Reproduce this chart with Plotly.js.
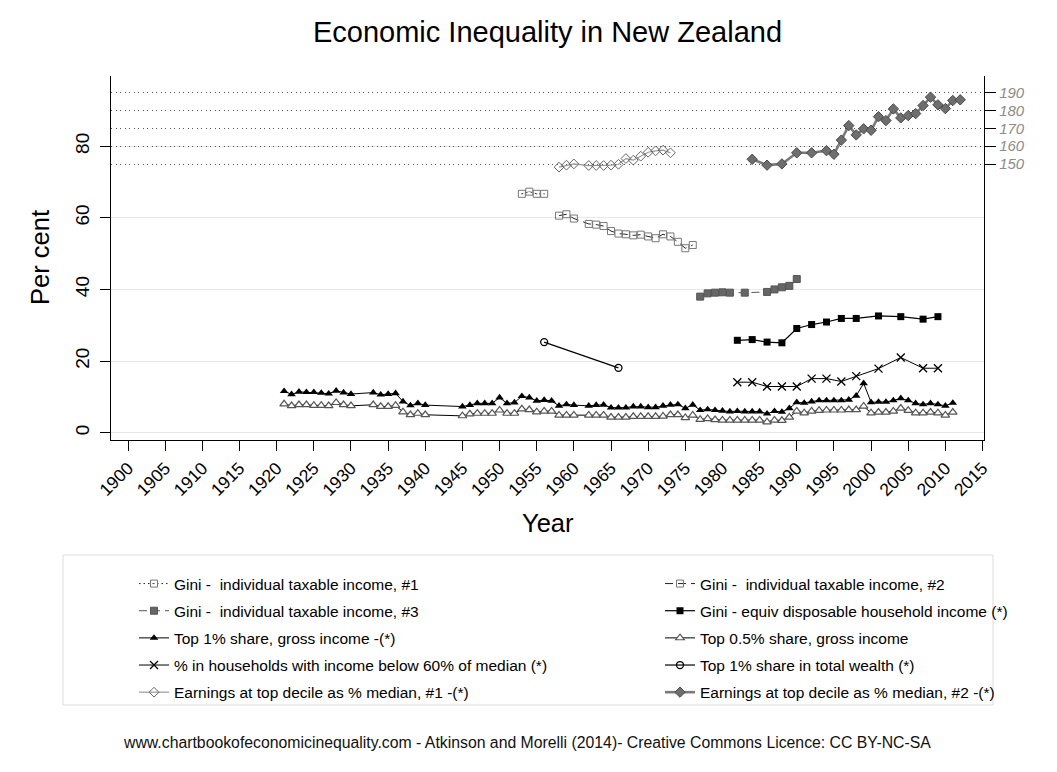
<!DOCTYPE html>
<html>
<head>
<meta charset="utf-8">
<script src="https://cdn.plot.ly/plotly-3.0.1.min.js"></script>
<style>html,body{margin:0;padding:0;background:#fff;}#chart{width:1057px;height:772px;}</style>
</head>
<body>
<div id="chart"></div>
<script>
// ---- Data ----
const giniTax1Years = [1953, 1954, 1955, 1956];
const giniTax1 = [66.7, 67.3, 66.7, 66.7];

const giniTax2Years = [1958, 1959, 1960, 1962, 1963, 1964, 1965, 1966, 1967, 1968, 1969, 1970, 1971, 1972, 1973, 1974, 1975, 1976];
const giniTax2 = [60.6, 61.0, 59.8, 58.3, 58.1, 57.7, 56.3, 55.6, 55.4, 55.1, 55.3, 54.8, 54.3, 55.4, 54.8, 53.3, 51.5, 52.4];

const giniTax3Years = [1977, 1978, 1979, 1980, 1981, 1983, 1986, 1987, 1988, 1989, 1990];
const giniTax3 = [38.0, 38.9, 39.1, 39.2, 39.1, 39.1, 39.3, 40.0, 40.6, 41.0, 42.9];

const hhYears = [1982, 1984, 1986, 1988, 1990, 1992, 1994, 1996, 1998, 2001, 2004, 2007, 2009];
const giniEquiv = [25.8, 26.0, 25.3, 25.1, 29.1, 30.2, 30.9, 31.9, 31.9, 32.6, 32.4, 31.7, 32.4];
const below60 = [14.1, 14.1, 12.9, 12.9, 12.9, 15.1, 15.1, 14.3, 15.8, 17.9, 21.0, 18.0, 18.0];

const topYears = [1921, 1922, 1923, 1924, 1925, 1926, 1927, 1928, 1929, 1930,
  1933, 1934, 1935, 1936, 1937, 1938, 1939, 1940,
  1945, 1946, 1947, 1948, 1949, 1950, 1951, 1952, 1953, 1954, 1955, 1956, 1957, 1958, 1959, 1960,
  1962, 1963, 1964, 1965, 1966, 1967, 1968, 1969, 1970, 1971, 1972, 1973, 1974, 1975, 1976, 1977, 1978, 1979, 1980,
  1981, 1982, 1983, 1984, 1985, 1986, 1987, 1988, 1989, 1990, 1991, 1992, 1993, 1994, 1995, 1996, 1997, 1998, 1999, 2000,
  2001, 2002, 2003, 2004, 2005, 2006, 2007, 2008, 2009, 2010, 2011];
const top1Share = [11.6, 10.7, 11.4, 11.3, 11.3, 11.1, 10.9, 11.7, 11.2, 10.8,
  11.2, 10.6, 10.8, 11.0, 8.7, 7.6, 8.2, 7.7,
  7.3, 7.7, 8.2, 8.2, 8.2, 9.8, 8.2, 8.4, 10.2, 9.8, 8.9, 9.1, 8.9, 7.5, 7.9, 7.7,
  7.5, 7.7, 7.8, 7.0, 7.0, 7.0, 7.3, 7.3, 7.1, 7.1, 7.5, 7.8, 7.9, 6.8, 7.8, 6.3, 6.5, 6.3, 6.1,
  5.9, 6.0, 5.9, 5.9, 5.9, 5.3, 6.0, 5.8, 6.8, 8.5, 8.3, 8.7, 9.0, 9.0, 9.0, 9.0, 9.2, 10.3, 13.8, 8.5,
  8.6, 8.6, 9.0, 9.6, 9.0, 8.2, 7.9, 8.2, 7.9, 7.5, 8.3];
const top05Share = [8.0, 7.5, 7.8, 7.8, 7.6, 7.6, 7.5, 8.4, 7.8, 7.5,
  7.8, 7.3, 7.3, 7.6, 5.8, 5.0, 5.4, 5.0,
  4.7, 5.2, 5.4, 5.4, 5.4, 6.3, 5.4, 5.4, 6.6, 6.4, 5.8, 6.0, 6.0, 4.9, 4.9, 4.9,
  4.9, 4.9, 4.9, 4.3, 4.3, 4.3, 4.5, 4.5, 4.5, 4.5, 4.6, 5.0, 5.0, 4.2, 4.9, 3.7, 3.9, 3.6, 3.5,
  3.5, 3.5, 3.5, 3.5, 3.5, 3.0, 3.5, 3.4, 4.3, 6.0, 5.5, 6.0, 6.2, 6.3, 6.3, 6.3, 6.4, 6.4, 7.4, 5.5,
  5.7, 5.7, 6.0, 6.8, 6.2, 5.5, 5.5, 5.7, 5.5, 4.9, 5.7];

const wealthYears = [1956, 1966];
const wealthTop1 = [25.3, 18.1];

const earn1Years = [1958, 1959, 1960, 1962, 1963, 1964, 1965, 1966, 1967, 1968, 1969, 1970, 1971, 1972, 1973];
const earnings1 = [148.3, 149.4, 150.1, 149.2, 149.2, 149.2, 149.4, 149.9, 153.1, 152.2, 154.4, 156.6, 157.4, 157.8, 156.3];

const earn2Years = [1984, 1986, 1988, 1990, 1992, 1994, 1995, 1996, 1997, 1998, 1999, 2000, 2001, 2002, 2003, 2004, 2005, 2006, 2007, 2008, 2009, 2010, 2011, 2012];
const earnings2 = [152.7, 149.4, 150.1, 156.3, 156.3, 157.5, 155.5, 163.4, 171.5, 166.3, 169.7, 168.9, 176.5, 174.3, 180.8, 175.8, 177.1, 178.2, 182.7, 187.4, 183.1, 181.0, 185.5, 185.9];

const xTicks = [1900, 1905, 1910, 1915, 1920, 1925, 1930, 1935, 1940, 1945, 1950, 1955, 1960, 1965, 1970, 1975, 1980, 1985, 1990, 1995, 2000, 2005, 2010, 2015];
const yTicks = [0, 20, 40, 60, 80];
const y2Ticks = [150, 160, 170, 180, 190];

const names = {
  g1: 'Gini - \u00a0individual taxable income, #1',
  g2: 'Gini - \u00a0individual taxable income, #2',
  g3: 'Gini - \u00a0individual taxable income, #3',
  ge: 'Gini - equiv disposable household income (*)',
  t1: 'Top 1% share, gross income -(*)',
  t05: 'Top 0.5% share, gross income',
  hh: '% in households with income below 60% of median (*)',
  w: 'Top 1% share in total wealth (*)',
  e1: 'Earnings at top decile as % median, #1 -(*)',
  e2: 'Earnings at top decile as % median, #2 -(*)'
};

// ---- Chart ----
const FONT = '"Liberation Sans", Arial, Helvetica, sans-serif';
const yMin = -2.04, yMax = 99.6;

const traces = [
  {x: giniTax1Years, y: giniTax1, name: names.g1, legend: 'legend', legendgroup: 'a1',
   mode: 'lines+markers', line: {color: '#222', width: 1, dash: '1.5px,3px'},
   marker: {symbol: 'square-open-dot', size: 7, color: '#777', line: {width: 1}}},
  {x: giniTax2Years, y: giniTax2, name: names.g2, legend: 'legend2', legendgroup: 'b1',
   mode: 'lines+markers', line: {color: '#222', width: 1, dash: '8px,5px'},
   marker: {symbol: 'square-open', size: 7, color: '#777', line: {width: 1}}},
  {x: giniTax3Years, y: giniTax3, name: names.g3, legend: 'legend', legendgroup: 'a2',
   mode: 'lines+markers', line: {color: '#555', width: 1, dash: '8px,5px'},
   marker: {symbol: 'square', size: 7, color: '#666', line: {color: '#555', width: 1}}},
  {x: hhYears, y: giniEquiv, name: names.ge, legend: 'legend2', legendgroup: 'b2',
   mode: 'lines+markers', line: {color: '#000', width: 1.2},
   marker: {symbol: 'square', size: 7, color: '#000'}},
  {x: topYears, y: top05Share, name: names.t05, legend: 'legend2', legendgroup: 'b3',
   mode: 'lines+markers', line: {color: '#000', width: 1},
   marker: {symbol: 'triangle-up', size: 7.5, color: '#fff', line: {color: '#555', width: 1.2}}},
  {x: topYears, y: top1Share, name: names.t1, legend: 'legend', legendgroup: 'a3',
   mode: 'lines+markers', line: {color: '#000', width: 1},
   marker: {symbol: 'triangle-up', size: 7.5, color: '#000'}},
  {x: hhYears, y: below60, name: names.hh, legend: 'legend', legendgroup: 'a4',
   mode: 'lines+markers', line: {color: '#000', width: 1},
   marker: {symbol: 'x-thin-open', size: 8, color: '#000', line: {color: '#000', width: 1.3}}},
  {x: wealthYears, y: wealthTop1, name: names.w, legend: 'legend2', legendgroup: 'b4',
   mode: 'lines+markers', line: {color: '#000', width: 1.2},
   marker: {symbol: 'circle-open', size: 7, color: '#000', line: {width: 1.3}}},
  {x: earn1Years, y: earnings1, name: names.e1, legend: 'legend', legendgroup: 'a5', yaxis: 'y2',
   mode: 'lines+markers', line: {color: '#999', width: 1.2},
   marker: {symbol: 'diamond-open', size: 7.5, color: '#666', line: {width: 1}}},
  {x: earn2Years, y: earnings2, name: names.e2, legend: 'legend2', legendgroup: 'b5', yaxis: 'y2',
   mode: 'lines+markers', line: {color: '#7a7a7a', width: 2.6},
   marker: {symbol: 'diamond', size: 8, color: '#6e6e6e', line: {color: '#4a4a4a', width: 1}}}
];

const legendCommon = {
  orientation: 'v', bgcolor: 'rgba(0,0,0,0)', borderwidth: 0,
  font: {family: FONT, size: 15.5, color: '#000'}, tracegroupgap: 4,
  xanchor: 'left', yanchor: 'top', traceorder: 'grouped', itemsizing: 'trace'
};

const layout = {
  width: 1057, height: 772,
  paper_bgcolor: '#fff', plot_bgcolor: '#fff',
  font: {family: FONT, color: '#000'},
  margin: {l: 111, r: 73, t: 76, b: 332, autoexpand: false},
  title: {text: 'Economic Inequality in New Zealand', font: {family: FONT, size: 29, color: '#000'},
          x: 0.5, xref: 'paper', y: 1 - 32 / 772, yref: 'container', yanchor: 'middle'},
  xaxis: {range: [1897.7, 2015.2], tickvals: xTicks, ticktext: xTicks.map(String), tickangle: -45,
          ticks: 'outside', ticklen: 10, tickcolor: '#000', tickwidth: 1,
          showline: true, linecolor: '#000', linewidth: 1.3, showgrid: false, zeroline: false,
          tickfont: {family: FONT, size: 17.5, color: '#000'}},
  yaxis: {range: [yMin, yMax], tickvals: yTicks, ticktext: yTicks.map(String), tickangle: -90,
          ticks: 'outside', ticklen: 10, tickcolor: '#000', tickwidth: 1, ticklabelstandoff: 3,
          showline: true, linecolor: '#000', linewidth: 1.3,
          showgrid: true, gridcolor: '#e8e8e8', gridwidth: 1, zeroline: false,
          tickfont: {family: FONT, size: 19, color: '#000'}},
  yaxis2: {overlaying: 'y', side: 'right', range: [2 * yMin, 2 * yMax], tickvals: y2Ticks, ticktext: y2Ticks.map(String),
           ticks: 'outside', ticklen: 11, tickcolor: '#000', tickwidth: 1,
           showline: true, linecolor: '#000', linewidth: 1.3,
           showgrid: true, gridcolor: '#555', gridwidth: 1.2, griddash: '1px,3.5px', zeroline: false,
           tickfont: {family: FONT, size: 15, color: '#8c8c8c', style: 'italic'}},
  legend: Object.assign({}, legendCommon, {x: (134 - 111) / 873, y: (440 - 567) / 364}),
  legend2: Object.assign({}, legendCommon, {x: (660 - 111) / 873, y: (440 - 567) / 364}),
  shapes: [
    {type: 'rect', xref: 'paper', yref: 'paper', x0: (63 - 111) / 873, x1: (993 - 111) / 873,
     y0: (440 - 705) / 364, y1: (440 - 555) / 364, line: {color: '#dcdcdc', width: 1}, fillcolor: 'rgba(0,0,0,0)', layer: 'below'}
  ],
  annotations: [
    {text: 'Per cent', xref: 'paper', yref: 'paper', x: (40 - 111) / 873, y: 0.5, textangle: -90,
     showarrow: false, xanchor: 'center', yanchor: 'middle', font: {family: FONT, size: 25.5, color: '#000'}},
    {text: 'Year', xref: 'paper', yref: 'paper', x: 0.5, y: (440 - 523) / 364,
     showarrow: false, xanchor: 'center', yanchor: 'middle', font: {family: FONT, size: 25.5, color: '#000'}},
    {text: 'www.chartbookofeconomicinequality.com - Atkinson and Morelli (2014)- Creative Commons Licence: CC BY-NC-SA',
     xref: 'paper', yref: 'paper', x: (527 - 111) / 873, y: (440 - 742) / 364,
     showarrow: false, xanchor: 'center', yanchor: 'middle', font: {family: FONT, size: 15.8, color: '#111'}}
  ]
};

Plotly.newPlot('chart', traces, layout, {displayModeBar: false, responsive: false});
</script>
</body>
</html>
